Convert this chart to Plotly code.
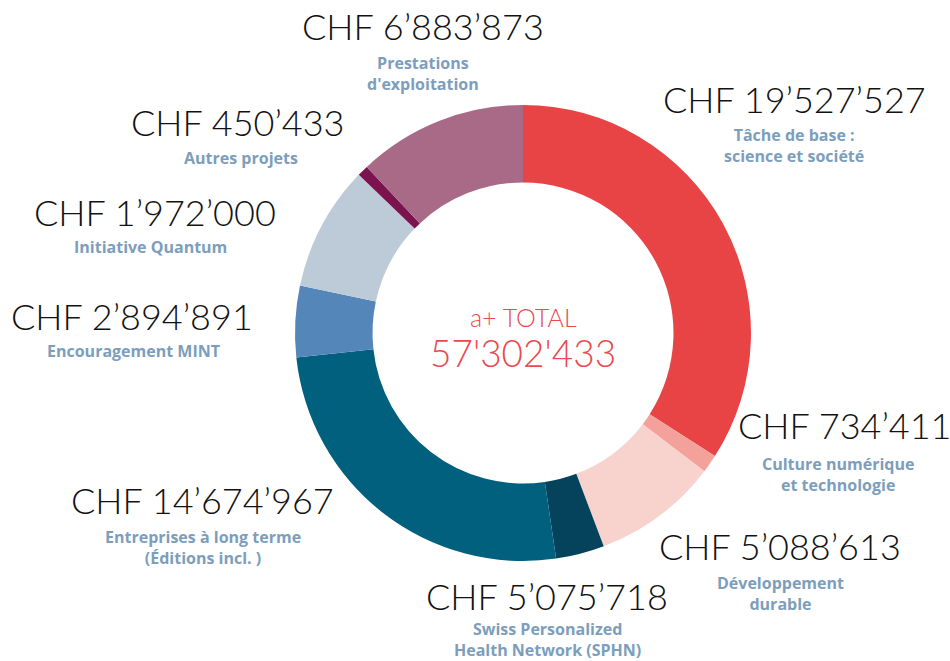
import plotly.graph_objects as go

# Slices in drawing order (clockwise from 12 o'clock)
categories = [
    "Tâche de base : science et société",
    "Culture numérique et technologie",
    "Développement durable",
    "Initiative Quantum",
    "Entreprises à long terme (Éditions incl. )",
    "Encouragement MINT",
    "Swiss Personalized Health Network (SPHN)",
    "Autres projets",
    "Prestations d'exploitation",
]
values = [19527527, 734411, 5088613, 1972000, 14674967, 2894891, 5075718, 450433, 6883873]
colors = ["#e84345", "#f4a19b", "#f8d2cc", "#05435d", "#00607e",
          "#5586b9", "#bdcad7", "#7c134f", "#a96a87"]

# Outside labels as shown on the chart
label_amounts = ["CHF 6’883’873", "CHF 19’527’527", "CHF 450’433", "CHF 1’972’000",
                 "CHF 2’894’891", "CHF 734’411", "CHF 14’674’967", "CHF 5’088’613",
                 "CHF 5’075’718"]
label_names = ["Prestations<br>d'exploitation", "Tâche de base :<br>science et société",
               "Autres projets", "Initiative Quantum", "Encouragement MINT",
               "Culture numérique<br>et technologie", "Entreprises à long terme<br>(Éditions incl. )",
               "Développement<br>durable", "Swiss Personalized<br>Health Network (SPHN)"]
total_title = "a+ TOTAL"
total_value = "57'302'433"

W, H = 950, 661
cx, cy, R = 523, 333, 228

fig = go.Figure(go.Pie(
    labels=categories, values=values, sort=False, direction="clockwise", rotation=0,
    hole=0.66, textinfo="none", hoverinfo="label+value",
    marker=dict(colors=colors, line=dict(width=0)),
    domain=dict(x=[(cx - R) / W, (cx + R) / W], y=[1 - (cy + R) / H, 1 - (cy - R) / H]),
    showlegend=False,
))

# label positions (pixel centers): amount line, then name block
amount_pos = [(423, 26), (794, 99), (238, 122), (155, 212), (132, 316),
              (845, 425), (202, 500), (780, 546), (547, 596)]
name_pos = [(423, 74), (794, 146), (241, 158), (150, 247), (133, 351),
            (838, 474), (203, 547), (780, 593), (547, 639)]

num_font = dict(family="Lato", size=36, color="#111111", weight=300)
name_font = dict(family="Open Sans", size=16, color="#7c9ebc", weight=700)

ann = []
for t, (x, y) in zip(label_amounts, amount_pos):
    ann.append(dict(text=t, x=x / W, y=1 - y / H, xref="paper", yref="paper",
                    showarrow=False, font=num_font, xanchor="center", yanchor="middle"))
for t, (x, y) in zip(label_names, name_pos):
    ann.append(dict(text="<b>" + t.replace("<br>", "</b><br><b>") + "</b>",
                    x=x / W, y=1 - y / H, xref="paper", yref="paper",
                    showarrow=False, font=name_font, xanchor="center", yanchor="middle",
                    align="center"))
ann.append(dict(text=total_title, x=cx / W, y=1 - 317 / H, xref="paper", yref="paper",
                showarrow=False, font=dict(family="Lato", size=25, color="#e84a50", weight=300)))
ann.append(dict(text=total_value, x=cx / W, y=1 - 352 / H, xref="paper", yref="paper",
                showarrow=False, font=dict(family="Lato", size=37, color="#e84a50", weight=300)))

fig.update_layout(width=W, height=H, margin=dict(l=0, r=0, t=0, b=0),
                  paper_bgcolor="white", plot_bgcolor="white", annotations=ann)

fig.write_html("out.html", config={"displayModeBar": False},
               post_script="document.body.style.margin='0px';")
